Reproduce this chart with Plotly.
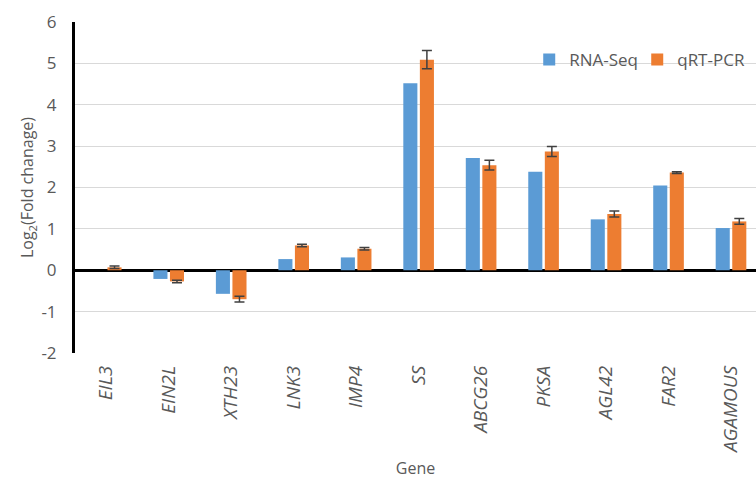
import plotly.graph_objects as go

# Genes and log2 fold-change values for both methods
genes = ["EIL3", "EIN2L", "XTH23", "LNK3", "IMP4", "SS", "ABCG26", "PKSA", "AGL42", "FAR2", "AGAMOUS"]
rna_seq = [0.0, -0.21, -0.57, 0.27, 0.31, 4.52, 2.71, 2.38, 1.23, 2.05, 1.02]
qrt_pcr = [0.07, -0.27, -0.70, 0.60, 0.52, 5.09, 2.54, 2.87, 1.36, 2.36, 1.18]
qrt_err = [0.03, 0.03, 0.07, 0.03, 0.03, 0.22, 0.12, 0.12, 0.07, 0.02, 0.07]
y_ticks = [-2, -1, 0, 1, 2, 3, 4, 5, 6]
y_ticktext = ["-2", "-1", "0", "1", "2", "3", "4", "5", "6"]

BLUE = "#5B9BD5"
ORANGE = "#ED7D31"
GREY_TEXT = "#595959"
FONT = "Open Sans"

fig = go.Figure()
fig.add_trace(go.Bar(
    name="RNA-Seq", x=genes, y=rna_seq,
    marker=dict(color=BLUE, line=dict(width=0)),
))
fig.add_trace(go.Bar(
    name="qRT-PCR", x=genes, y=qrt_pcr,
    marker=dict(color=ORANGE, line=dict(width=0)),
    error_y=dict(type="data", array=qrt_err, visible=True,
                 color="#404040", thickness=1.5, width=5),
))

fig.update_layout(
    width=756, height=480,
    margin=dict(l=75, r=0, t=22, b=127),
    paper_bgcolor="white", plot_bgcolor="white",
    barmode="group", bargap=0.47, bargroupgap=0.15,
    font=dict(family=FONT, color=GREY_TEXT),
    legend=dict(
        orientation="h", x=0.667, y=0.885, xanchor="left", yanchor="middle",
        font=dict(size=17, color=GREY_TEXT), bgcolor="rgba(0,0,0,0)",
        entrywidth=63, entrywidthmode="pixels", traceorder="normal",
    ),
    xaxis=dict(
        range=[-0.5, 10.4],
        tickmode="array", tickvals=genes,
        ticktext=[f"<i>{g}</i>" for g in genes],
        tickangle=-90, tickfont=dict(size=19, color=GREY_TEXT),
        ticks="", showline=False, showgrid=False, automargin=False,
        ticklabelstandoff=8,
        title=dict(text="Gene", font=dict(size=16, color=GREY_TEXT), standoff=9),
    ),
    yaxis=dict(
        range=[-2, 6], tickmode="array", tickvals=y_ticks, ticktext=y_ticktext,
        showgrid=True, gridcolor="#D9D9D9", gridwidth=1,
        zeroline=True, zerolinecolor="black", zerolinewidth=3,
        showline=True, linecolor="black", linewidth=3,
        ticks="", tickfont=dict(size=17, color=GREY_TEXT),
        ticklabelstandoff=12, automargin=False,
        title=dict(text="Log<sub>2</sub>(Fold chanage)",
                   font=dict(size=16, color=GREY_TEXT), standoff=4),
    ),
)

fig.write_html("out.html")
